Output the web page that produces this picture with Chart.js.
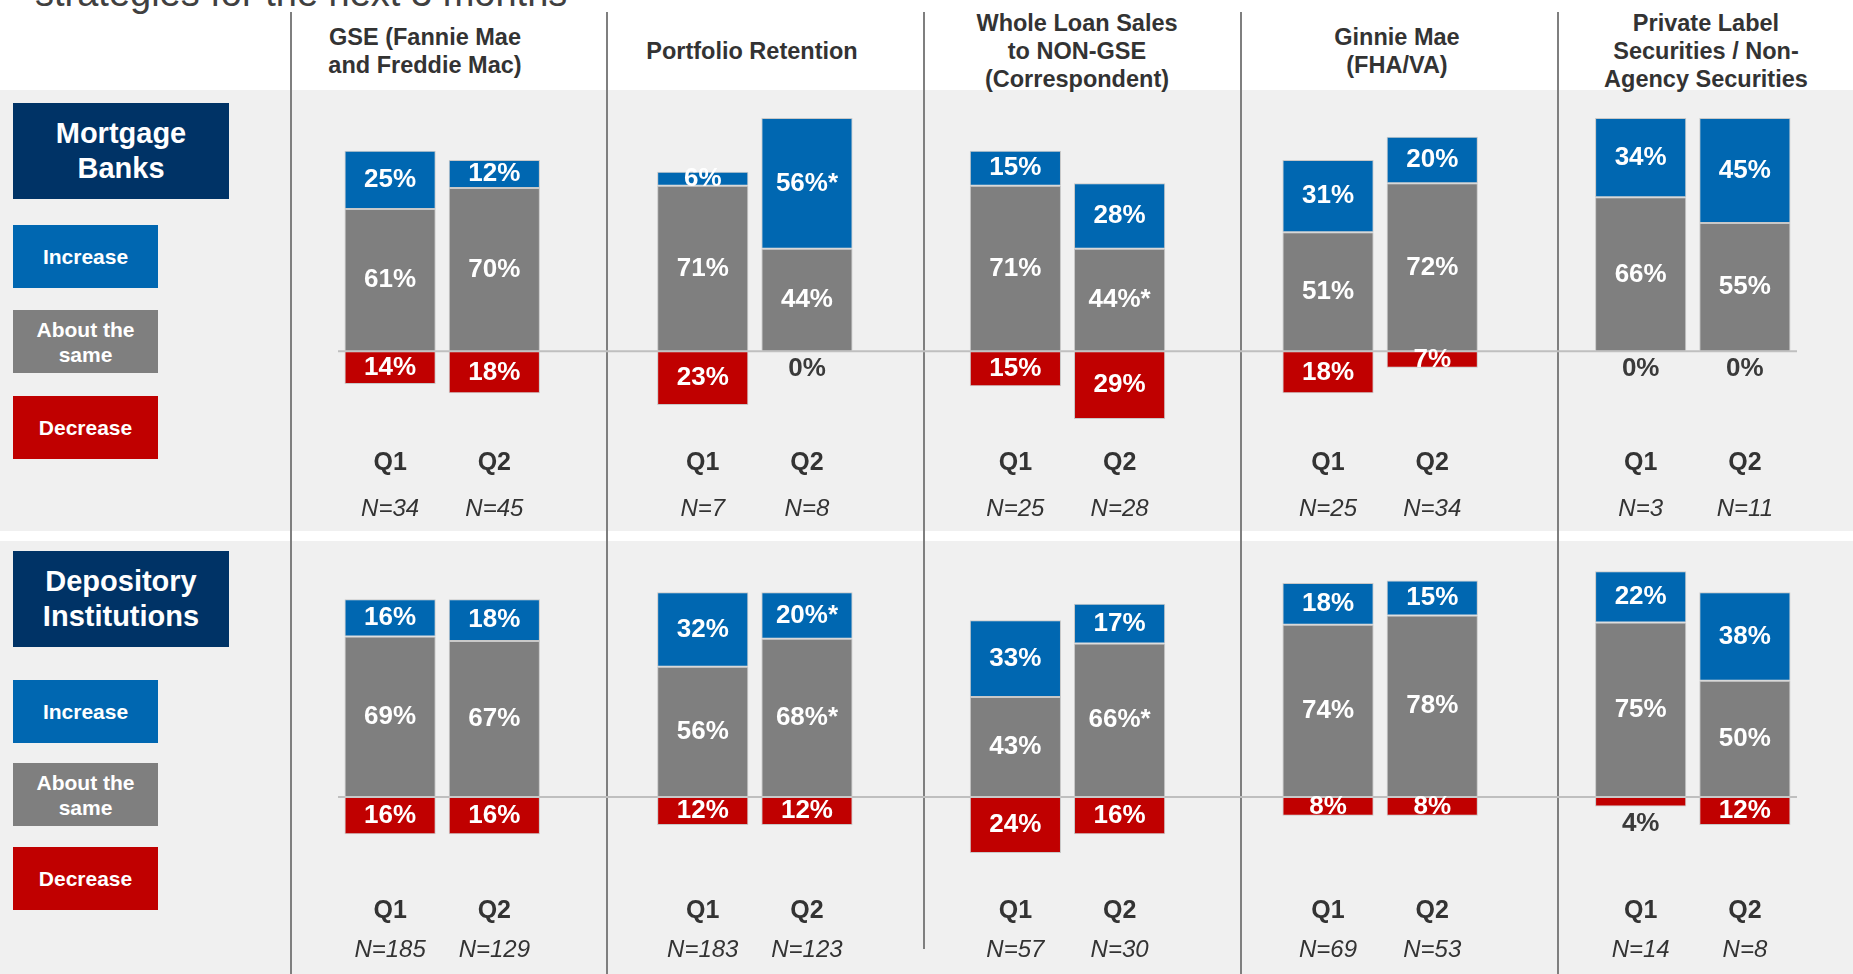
<!DOCTYPE html>
<html lang="en">
<head>
  <meta charset="UTF-8" />
  <title>Expected change in loan sale strategies</title>
  <script src="https://cdn.jsdelivr.net/npm/chart.js"></script>
  <style>
    body {
      margin: 0;
      width: 1853px;
      height: 974px;
      position: relative;
      overflow: hidden;
      background: #ffffff;
      font-family: 'Liberation Sans', Arial, sans-serif;
      color: #333;
    }
    .title {
      position: absolute;
      left: 35px;
      top: -26px;
      font-size: 38px;
      line-height: 38px;
      color: #404040;
      white-space: nowrap;
    }
    .band {
      position: absolute;
      left: 0;
      width: 1853px;
      background: #f0f0f0;
    }
    .sep {
      position: absolute;
      width: 2px;
      background: #7f7f7f;
    }
    .colhead {
      position: absolute;
      top: 51px;
      width: 300px;
      transform: translate(-50%, -50%);
      text-align: center;
      font-weight: bold;
      font-size: 23.5px;
      line-height: 28px;
      color: #333;
    }
    .tag {
      position: absolute;
      left: 13px;
      display: flex;
      align-items: center;
      justify-content: center;
      text-align: center;
      color: #fff;
      font-weight: bold;
    }
    .tag.group {
      width: 216px;
      height: 96px;
      background: #003366;
      font-size: 29px;
      line-height: 35px;
    }
    .tag.key {
      width: 145px;
      height: 63px;
      font-size: 21px;
      line-height: 25px;
    }
    .chart-box {
      position: absolute;
      left: 338px;
      width: 1459px;
    }
  </style>
</head>
<body>
  <div class="title">strategies for the next 3 months</div>

  <div class="band" style="top:90px;height:441px"></div>
  <div class="band" style="top:541px;height:433px"></div>

  <div class="sep" style="left:290px;top:12px;height:962px"></div>
  <div class="sep" style="left:606px;top:12px;height:962px"></div>
  <div class="sep" style="left:923px;top:12px;height:937px"></div>
  <div class="sep" style="left:1240px;top:12px;height:962px"></div>
  <div class="sep" style="left:1557px;top:12px;height:962px"></div>

  <div class="colhead" style="left:425px">GSE (Fannie Mae<br>and Freddie Mac)</div>
  <div class="colhead" style="left:752px">Portfolio Retention</div>
  <div class="colhead" style="left:1077px">Whole Loan Sales<br>to NON-GSE<br>(Correspondent)</div>
  <div class="colhead" style="left:1397px">Ginnie Mae<br>(FHA/VA)</div>
  <div class="colhead" style="left:1706px">Private Label<br>Securities / Non-<br>Agency Securities</div>

  <div class="tag group" style="top:103px">Mortgage<br>Banks</div>
  <div class="tag key" style="top:225px;background:#0067b1">Increase</div>
  <div class="tag key" style="top:310px;background:#7f7f7f">About the<br>same</div>
  <div class="tag key" style="top:396px;background:#c00000">Decrease</div>

  <div class="tag group" style="top:551px">Depository<br>Institutions</div>
  <div class="tag key" style="top:680px;background:#0067b1">Increase</div>
  <div class="tag key" style="top:763px;background:#7f7f7f">About the<br>same</div>
  <div class="tag key" style="top:847px;background:#c00000">Decrease</div>

  <div class="chart-box" style="top:90px;height:441px"><canvas id="mbChart"></canvas></div>
  <div class="chart-box" style="top:541px;height:433px"><canvas id="diChart"></canvas></div>

  <script>
    // Q1 / Q2 for each channel: GSE, Portfolio, Whole Loan, Ginnie Mae, Private Label
    const quarters = ['Q1', 'Q2'];
    const channelCount = 5;

    // Mortgage Banks
    const mbIncrease = [25, 12, 6, 56, 15, 28, 31, 20, 34, 45];
    const mbSame     = [61, 70, 71, 44, 71, 44, 51, 72, 66, 55];
    const mbDecrease = [14, 18, 23, 0, 15, 29, 18, 7, 0, 0];
    const mbSampleN  = [34, 45, 7, 8, 25, 28, 25, 34, 3, 11];
    const mbStarred  = [['increase', 3], ['same', 5]];

    // Depository Institutions
    const diIncrease = [16, 18, 32, 20, 33, 17, 18, 15, 22, 38];
    const diSame     = [69, 67, 56, 68, 43, 66, 74, 78, 75, 50];
    const diDecrease = [16, 16, 12, 12, 24, 16, 8, 8, 4, 12];
    const diSampleN  = [185, 129, 183, 123, 57, 30, 69, 53, 14, 8];
    const diStarred  = [['increase', 3], ['same', 3], ['same', 5]];

    const BLUE = '#0067b1';
    const GRAY = '#7f7f7f';
    const RED = '#c00000';

    // 2 quarter slots + 1 empty slot per channel (no trailing gap)
    function slotLabels() {
      const out = [];
      for (let c = 0; c < channelCount; c++) {
        out.push(quarters[0], quarters[1]);
        if (c < channelCount - 1) out.push('');
      }
      return out;
    }

    function spread(values, fn) {
      const out = [];
      for (let c = 0; c < channelCount; c++) {
        out.push(fn(values[c * 2]), fn(values[c * 2 + 1]));
        if (c < channelCount - 1) out.push(null);
      }
      return out;
    }

    function slotIndex(i) {
      return Math.floor(i / 2) * 3 + (i % 2);
    }

    const valueLabels = {
      id: 'valueLabels',
      beforeDatasetsDraw(chart) {
        const { ctx, chartArea, scales: { y } } = chart;
        const y0 = y.getPixelForValue(0);
        ctx.save();
        ctx.strokeStyle = '#bfbfbf';
        ctx.lineWidth = 2;
        ctx.beginPath();
        ctx.moveTo(chartArea.left, y0);
        ctx.lineTo(chartArea.right, y0);
        ctx.stroke();
        ctx.restore();
      },
      afterDatasetsDraw(chart, args, opts) {
        const { ctx, scales: { x, y } } = chart;
        const src = opts.source;
        const y0 = y.getPixelForValue(0);
        const star = (key, i) => src.starred.some(s => s[0] === key && s[1] === i) ? '*' : '';

        ctx.save();
        ctx.textAlign = 'center';
        ctx.textBaseline = 'middle';

        src.same.forEach((same, i) => {
          const px = x.getPixelForValue(slotIndex(i));
          const inc = src.increase[i];
          const dec = src.decrease[i];
          ctx.font = 'bold 26px "Liberation Sans", Arial, sans-serif';

          // about the same
          ctx.fillStyle = '#ffffff';
          ctx.fillText(same + '%' + star('same', i), px, (y0 + y.getPixelForValue(same)) / 2);
          // increase
          ctx.fillText(inc + '%' + star('increase', i),
            px, (y.getPixelForValue(same) + y.getPixelForValue(same + inc)) / 2);
          // decrease: tiny values sit under the bar in dark text
          const bottom = y.getPixelForValue(-dec);
          if (dec <= 5) {
            ctx.fillStyle = '#3a3a3a';
            ctx.fillText(dec + '%', px, bottom + 17);
          } else {
            ctx.fillText(dec + '%', px, (y0 + bottom) / 2);
          }

          // quarter and sample size
          ctx.fillStyle = '#333333';
          ctx.font = 'bold 25px "Liberation Sans", Arial, sans-serif';
          ctx.fillText(quarters[i % 2], px, y0 + opts.quarterOffset);
          ctx.font = 'italic 24px "Liberation Sans", Arial, sans-serif';
          ctx.fillText('N=' + src.n[i], px, y0 + opts.nOffset);
        });
        ctx.restore();
      }
    };

    function makeChart(id, src, yMin, yMax, quarterOffset, nOffset) {
      const bar = { barPercentage: 0.875, categoryPercentage: 1, borderColor: '#c8c8c8', borderWidth: 1, borderSkipped: false };
      new Chart(document.getElementById(id), {
        type: 'bar',
        data: {
          labels: slotLabels(),
          datasets: [
            Object.assign({ label: 'About the same', data: spread(src.same, v => v), backgroundColor: GRAY }, bar),
            Object.assign({ label: 'Increase', data: spread(src.increase, v => v), backgroundColor: BLUE }, bar),
            Object.assign({ label: 'Decrease', data: spread(src.decrease, v => v > 0 ? -v : null), backgroundColor: RED }, bar)
          ]
        },
        options: {
          responsive: true,
          maintainAspectRatio: false,
          animation: false,
          layout: { padding: 0 },
          scales: {
            x: { stacked: true, display: false },
            y: { stacked: true, display: false, min: yMin, max: yMax }
          },
          plugins: {
            legend: { display: false },
            tooltip: { enabled: false },
            valueLabels: { source: src, quarterOffset, nOffset }
          }
        },
        plugins: [valueLabels]
      });
    }

    makeChart('mbChart', {
      increase: mbIncrease, same: mbSame, decrease: mbDecrease, n: mbSampleN, starred: mbStarred
    }, -77, 112, 112, 158);

    makeChart('diChart', {
      increase: diIncrease, same: diSame, decrease: diDecrease, n: diSampleN, starred: diStarred
    }, -76, 110, 114, 153);
  </script>
</body>
</html>
